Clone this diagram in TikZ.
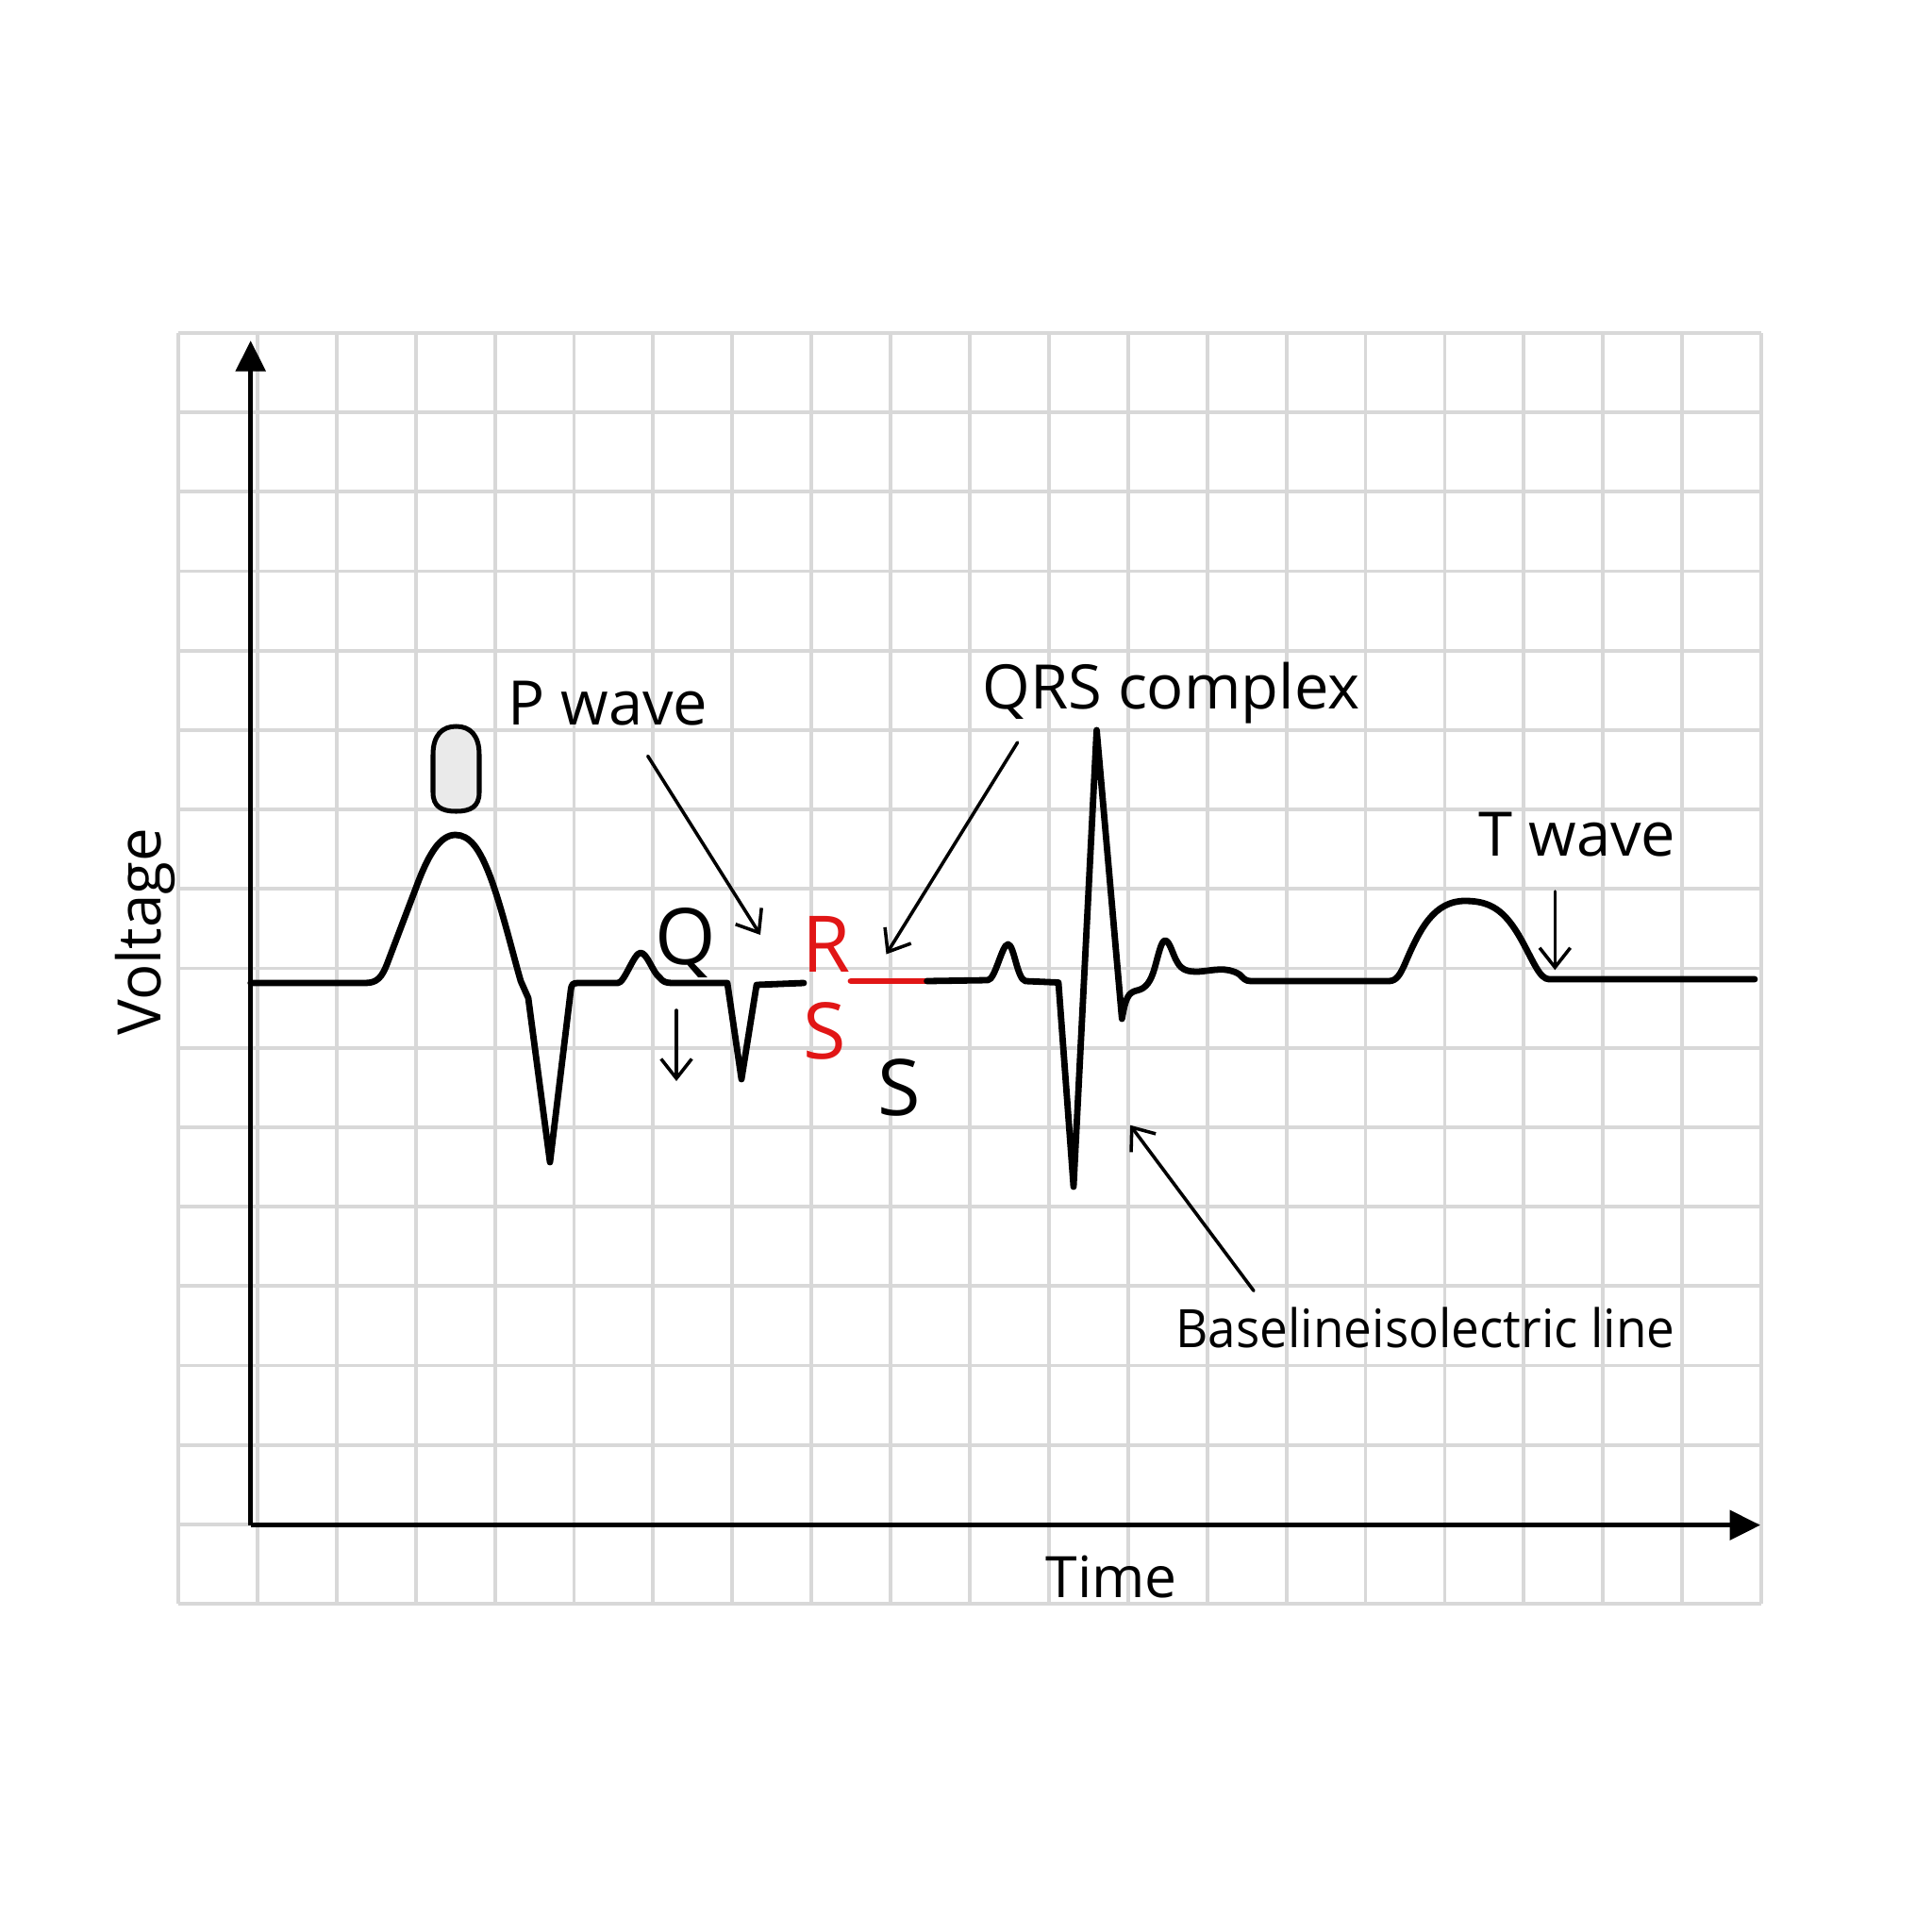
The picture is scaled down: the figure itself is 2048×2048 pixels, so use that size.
\documentclass[tikz,border=0pt]{standalone}
\usepackage{fontspec}
\setmainfont{Open Sans}
\usetikzlibrary{arrows.meta}
\definecolor{gridgray}{RGB}{216,216,216}
\definecolor{ecgred}{RGB}{225,22,22}
\definecolor{bubblefill}{RGB}{234,234,234}
\tikzset{
  gridline/.style={draw=gridgray, line width=1.3pt},
  axisline/.style={line width=1.8pt, -{Triangle[length=11pt,width=10.5pt]}},
  ecg/.style={line width=2.3pt, line join=round, line cap=round},
  ecgred/.style={ecg, draw=ecgred},
  pointer/.style={line width=1.2pt, line cap=round, -{Straight Barb[length=7pt,width=11pt]}},
  ecglabel/.style={inner sep=0pt, font=\fontsize{22}{26}\selectfont},
  bigletter/.style={inner sep=0pt, font=\fontsize{28}{32}\selectfont},
}
\begin{document}
\begin{tikzpicture}[x=0.33826pt, y=-0.33826pt]
\useasboundingbox (0,0) rectangle (2048,2048);
\fill[white] (0,0) rectangle (2048,2048);
% grid
\foreach \i in {0,...,20}
  \draw[gridline] ({189+83.9*\i},353) -- ({189+83.9*\i},1700);
\foreach \j in {0,...,16}
  \draw[gridline] (189,{353+84.1875*\j}) -- (1867,{353+84.1875*\j});
% axes
\coordinate (O) at (265.7,1616.7);
\coordinate (ytip) at (265.7,361);
\coordinate (xtip) at (1866,1616.7);
\draw[axisline] (O) -- (ytip);
\draw[axisline] (O) -- (xtip);
\node[ecglabel, font=\fontsize{20.5}{24}\selectfont, anchor=base west] (time) at (1108,1693) {Time};
\node[ecglabel, font=\fontsize{21.5}{24}\selectfont, rotate=90, anchor=base west] (volt) at (170,1098) {Voltage};
% ECG trace, first part
\draw[ecg] (265.7,1042) -- (387,1042)
  .. controls (400,1042) and (405,1036) .. (411,1020)
  -- (444,933)
  .. controls (455,905) and (467,885) .. (482.7,885)
  .. controls (498,885) and (508,900) .. (518,925)
  .. controls (530,955) and (542,1005) .. (552,1040)
  -- (560,1058) -- (583,1232) -- (605,1050)
  .. controls (606,1043) and (607,1042) .. (613,1042)
  -- (655,1042)
  .. controls (662,1042) and (672,1010) .. (679,1010)
  .. controls (686,1010) and (692,1031) .. (699,1036)
  .. controls (703,1041) and (706,1042) .. (713,1042)
  -- (771,1042) -- (786,1144) -- (802,1044) -- (852,1042);
% red segment
\draw[ecgred] (902,1040) -- (982.6,1040);
% second part
\draw[ecg] (982.6,1040) -- (1047,1039)
  .. controls (1055,1039) and (1062,1001) .. (1068.5,1001)
  .. controls (1075,1001) and (1078,1038) .. (1087,1040)
  -- (1122,1041.5)
  -- (1138,1258) -- (1162.5,774) -- (1189.3,1080)
  .. controls (1193,1058) and (1196,1052) .. (1205,1050)
  .. controls (1215,1048) and (1220,1040) .. (1224,1026)
  .. controls (1228,1012) and (1231,997) .. (1235,997)
  .. controls (1240,997) and (1243,1012) .. (1248,1020)
  .. controls (1253,1029) and (1260,1030) .. (1270,1030)
  .. controls (1285,1029) and (1300,1024) .. (1314,1033)
  .. controls (1318,1037) and (1320,1040) .. (1326,1040)
  -- (1472,1040)
  .. controls (1480,1040) and (1484,1034) .. (1490,1020)
  .. controls (1505,985) and (1520,955) .. (1553,955)
  .. controls (1580,955) and (1595,965) .. (1612,995)
  .. controls (1625,1018) and (1632,1038) .. (1642,1038)
  -- (1860,1038);
% bubble
\draw[line width=1.7pt, fill=bubblefill] (459,840) -- (459,800)
  .. controls (459,779) and (469,770) .. (483.5,770)
  .. controls (498,770) and (508,779) .. (508,800)
  -- (508,840)
  .. controls (508,855) and (499,860) .. (483.5,860)
  .. controls (468,860) and (459,855) .. (459,840) -- cycle;
% labels
\node[ecglabel, anchor=base west] (pwave) at (538,768) {P wave};
\node[ecglabel, anchor=base west] (qrs) at (1041,751) {QRS complex};
\node[ecglabel, anchor=base west] (twave) at (1567,907) {T wave};
\node[ecglabel, anchor=base west] (base) at (1246,1428) {\scalebox{0.944}[1]{\fontsize{19}{22}\selectfont Baselineisolectric line}};
\node[bigletter, anchor=base] (qlet) at (727,1022) {Q};
\node[bigletter, anchor=base, text=ecgred] (rlet) at (876.5,1030) {R};
\node[bigletter, anchor=base, text=ecgred] (slet) at (874,1122) {S};
\node[bigletter, anchor=base] (s2let) at (953.5,1182) {S};
% pointers
\coordinate (pA) at (686.7,801.4);
\coordinate (pB) at (806,991);
\coordinate (qA) at (1078.6,787);
\coordinate (qB) at (939.5,1011.5);
\coordinate (bA) at (1329,1368.3);
\coordinate (bB) at (1198,1192.7);
\coordinate (dA) at (717,1071);
\coordinate (dB) at (717,1146);
\coordinate (tA) at (1648.3,945);
\coordinate (tB) at (1648.3,1028.3);
\draw[pointer] (pA) -- (pB);
\draw[pointer] (qA) -- (qB);
\draw[pointer] (bA) -- (bB);
\draw[pointer] (dA) -- (dB);
\draw[pointer] (tA) -- (tB);
\end{tikzpicture}
\end{document}
